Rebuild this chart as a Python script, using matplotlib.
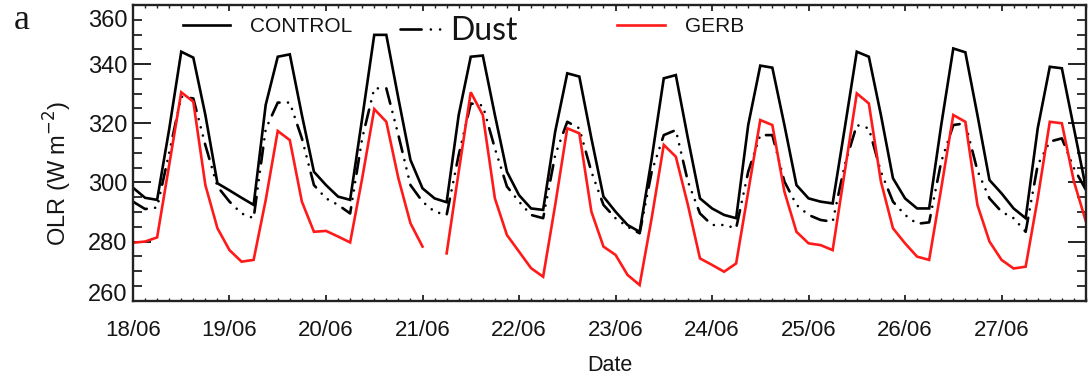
import numpy as np
import matplotlib
matplotlib.use("Agg")
import matplotlib.pyplot as plt
from matplotlib.lines import Line2D
from matplotlib.ticker import MultipleLocator
import matplotlib.transforms as mtransforms

# ---------------- data (3-hourly, 00..21 UTC each day) ----------------
day_labels = ["18/06", "19/06", "20/06", "21/06", "22/06",
              "23/06", "24/06", "25/06", "26/06", "27/06"]
hours_step = 3

control = [
    298.2, 294.8, 294.1, 318.0, 344.2, 342.2, 322.8, 299.7,   # 18/06
    297.3, 294.8, 292.4, 326.2, 342.5, 343.3, 322.8, 303.6,   # 19/06
    299.1, 295.2, 294.1, 321.7, 349.9, 349.9, 328.4, 307.6,   # 20/06
    298.0, 294.6, 293.3, 322.8, 342.5, 342.9, 322.8, 303.6,   # 21/06
    295.7, 291.2, 290.7, 317.2, 336.9, 335.8, 314.9, 295.2,   # 22/06
    290.1, 285.6, 283.3, 308.1, 335.2, 336.3, 314.9, 294.6,   # 23/06
    291.2, 289.0, 287.9, 319.4, 339.5, 338.8, 319.4, 299.1,   # 24/06
    294.6, 293.5, 292.9, 318.3, 344.2, 342.5, 322.8, 301.4,   # 25/06
    294.6, 291.2, 291.2, 319.4, 345.3, 344.0, 322.8, 300.8,   # 26/06
    296.3, 291.2, 287.9, 318.3, 339.1, 338.6, 318.3, 298.0,   # 27/06
]

dust = [
    293.5, 291.0, 291.5, 310.0, 329.0, 328.4, 312.6, 298.6,
    293.5, 289.5, 287.9, 318.0, 327.0, 327.0, 314.9, 299.1,
    294.6, 292.4, 289.5, 314.9, 331.8, 331.8, 316.0, 299.1,
    293.5, 290.1, 289.0, 309.3, 326.7, 326.0, 311.5, 298.6,
    293.5, 289.0, 287.9, 309.3, 320.5, 318.3, 303.6, 292.4,
    287.9, 285.0, 282.8, 303.6, 316.0, 317.7, 300.3, 289.5,
    285.6, 285.6, 284.5, 303.6, 316.0, 316.0, 300.3, 292.4,
    289.0, 287.3, 286.7, 305.9, 319.4, 318.3, 303.6, 293.5,
    289.0, 286.0, 286.5, 307.0, 319.4, 320.0, 304.0, 294.6,
    290.1, 287.9, 283.3, 305.9, 313.8, 314.9, 304.8, 297.4,
]

gerb = [
    279.6, 280.0, 281.4, 305.9, 330.5, 327.3, 299.1, 284.5,
    277.1, 273.2, 273.8, 294.0, 317.4, 314.3, 293.5, 283.3,
    283.6, 281.7, 279.7, 301.4, 324.8, 320.5, 301.4, 286.2,
    278.3, np.nan, 276.0, 303.6, 330.5, 322.8, 294.6, 282.2,
    276.6, 271.0, 268.1, 292.4, 318.3, 316.6, 290.1, 278.3,
    275.5, 268.7, 265.3, 288.0, 312.7, 308.7, 292.4, 274.3,
    272.1, 269.8, 272.6, 296.9, 321.1, 319.4, 296.9, 283.3,
    279.4, 278.8, 277.1, 303.6, 330.1, 326.7, 300.3, 284.5,
    279.4, 274.9, 273.8, 298.0, 322.8, 320.5, 292.4, 280.0,
    273.8, 270.9, 271.5, 294.6, 320.5, 320.0, 300.3, 286.7,
]

y_min, y_max = 260, 360

# time axis in days since 18/06 00 UTC
t = np.arange(len(control)) * hours_step / 24.0

# ---------------- figure ----------------
plt.rcParams['font.family'] = ['Liberation Sans', 'DejaVu Sans']
txt_color = '#151515'
fig = plt.figure(figsize=(10.91, 3.78), dpi=100)
ax = fig.add_axes([0.1219, 0.2045, 0.8735, 0.7823])

lw = 1.9
red = '#ff1a1a'
dust_style = (0, (6, 3.2, 0.01, 3.2, 0.01, 3.2, 0.01, 3.2))
ax.plot(t, control, color='black', lw=lw, solid_joinstyle='miter')
ax.plot(t, dust, color='black', lw=lw, linestyle=dust_style,
        dash_capstyle='round')
ax.plot(t, gerb, color=red, lw=lw, solid_joinstyle='miter')

ax.set_xlim(t[0], t[-1])
ax.set_ylim(y_min, y_max)

for sp in ax.spines.values():
    sp.set_linewidth(1.7)
    sp.set_color('#222222')

ax.tick_params(axis='both', which='both', direction='in', top=True,
               right=True, colors='#222222', labelcolor=txt_color)
ax.tick_params(axis='y', which='major', length=13, width=1.4,
               labelsize=17, pad=4)
ax.tick_params(axis='y', which='minor', length=6.5, width=1.3)
ax.tick_params(axis='x', which='major', length=4.5, width=1.3,
               labelsize=16, pad=14)
ax.tick_params(axis='x', which='minor', length=2.5, width=1.0)

ax.set_xticks(np.arange(len(day_labels)), labels=day_labels)
ax.xaxis.set_minor_locator(MultipleLocator(hours_step / 24.0))
yt = np.arange(y_min, y_max + 1, 20)
ax.set_yticks(yt, labels=[str(v) for v in yt])
ax.yaxis.set_minor_locator(MultipleLocator(5))

# shift end labels inward like the original
for lab in ax.get_yticklabels():
    if lab.get_text() == str(y_max):
        lab.set_transform(lab.get_transform() + mtransforms.ScaledTranslation(0, -0.14, fig.dpi_scale_trans))
    elif lab.get_text() == str(y_min):
        lab.set_transform(lab.get_transform() + mtransforms.ScaledTranslation(0, 0.08, fig.dpi_scale_trans))

ax.set_xlabel('Date', fontsize=15.5, labelpad=10, color=txt_color)
ax.set_ylabel(r'OLR (W m$^{-2}$)', fontsize=17, color=txt_color)
ax.yaxis.set_label_coords(-0.062, 0.43)

# legends
leg1 = ax.legend(handles=[Line2D([], [], color='black', lw=lw)],
                 labels=['CONTROL'], loc='center left',
                 bbox_to_anchor=(0.0525, 0.926), frameon=False,
                 fontsize=15, handlelength=2.26, handletextpad=0.96,
                 borderpad=0, borderaxespad=0)
for txt in leg1.get_texts():
    txt.set_color(txt_color)
ax.add_artist(leg1)

leg2 = ax.legend(handles=[Line2D([], [], color='black', lw=lw,
                                 linestyle=(0, (8, 3.5, 0.01, 3.5, 0.01, 3.5)),
                                 dash_capstyle='round')],
                 labels=['Dust'], loc='center left',
                 bbox_to_anchor=(0.280, 0.912), frameon=False,
                 prop={'family': ['Lato', 'DejaVu Sans'], 'size': 23},
                 handlelength=1.35, handletextpad=0.22,
                 borderpad=0, borderaxespad=0)
for txt in leg2.get_texts():
    txt.set_color(txt_color)
ax.add_artist(leg2)

leg3 = ax.legend(handles=[Line2D([], [], color=red, lw=lw)],
                 labels=['GERB'], loc='center left',
                 bbox_to_anchor=(0.508, 0.926), frameon=False,
                 fontsize=15, handlelength=2.3, handletextpad=0.96,
                 borderpad=0, borderaxespad=0)
for txt in leg3.get_texts():
    txt.set_color(txt_color)

fig.text(0.020, 0.945, 'a', family=['Liberation Serif', 'DejaVu Serif'],
         fontsize=26, ha='center', va='center', color=txt_color)

fig.savefig('out.png', dpi=100)
